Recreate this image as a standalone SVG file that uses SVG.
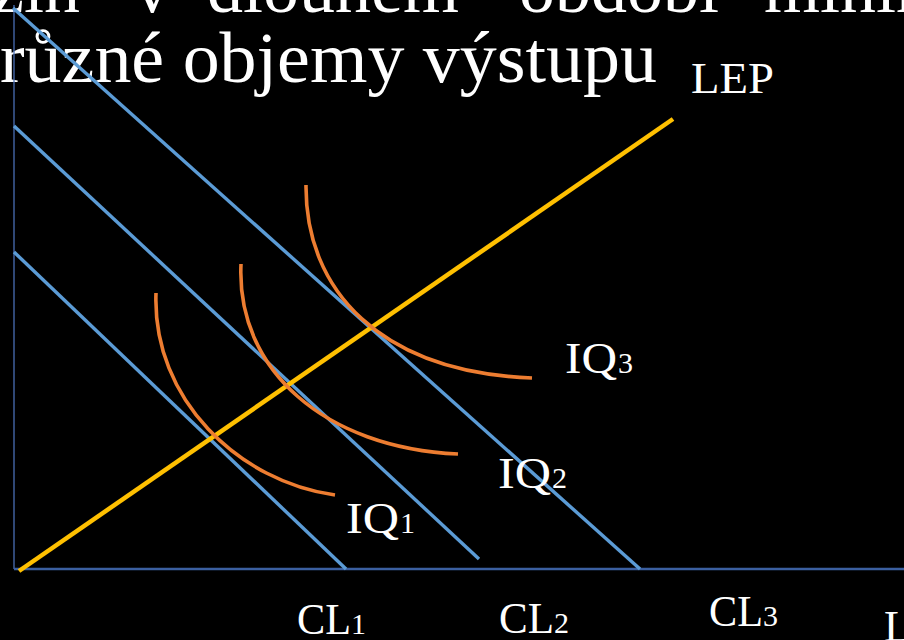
<svg xmlns="http://www.w3.org/2000/svg" width="904" height="640" viewBox="0 0 904 640">
<style>
.t{font-family:"Liberation Serif","Times New Roman",serif;fill:#fff}
.title{font-size:72px}
.lbl{font-size:44px}
.sub{font-size:30px}
.cl{stroke:#5B9BD5;stroke-width:3.4;fill:none}
.iq{stroke:#ED7D31;stroke-width:3.6;fill:none}
</style>
<rect width="904" height="640" fill="#000"/>
<g id="title">
<text class="t title" y="12"><tspan x="-8">zin</tspan><tspan x="134">v</tspan><tspan x="207">dlouhém</tspan><tspan x="519">období</tspan><tspan x="764">minim</tspan></text>
<text class="t title" x="0" y="82" textLength="657" lengthAdjust="spacingAndGlyphs">různé objemy výstupu</text>
</g>
<g id="axes">
<line x1="14" y1="5" x2="14" y2="569" stroke="#4A6FB5" stroke-width="1.3"/>
<line x1="14" y1="569" x2="904" y2="569" stroke="#3B5FA0" stroke-width="2.5"/>
</g>
<g id="connectors">
<line id="CL3-line" class="cl" x1="13" y1="8" x2="640" y2="569"/>
<line id="CL2-line" class="cl" x1="14" y1="126" x2="479" y2="559"/>
<line id="CL1-line" class="cl" x1="14" y1="252" x2="346" y2="569"/>
<line id="LEP-line" x1="19" y1="571" x2="673" y2="119" stroke="#FFC000" stroke-width="4.5"/>
<path id="IQ1-curve" class="iq" d="M156,293 C152,400 240,482 335,495"/>
<path id="IQ2-curve" class="iq" d="M241,264 C236,370 325,448 458,454"/>
<path id="IQ3-curve" class="iq" d="M306,185 C305,290 380,372 532,378"/>
</g>
<g id="LEP"><text class="t lbl" x="691" y="93" textLength="83" lengthAdjust="spacingAndGlyphs">LEP</text></g>
<g id="IQ3"><text class="t lbl" x="565" y="373"><tspan textLength="52" lengthAdjust="spacingAndGlyphs">IQ</tspan><tspan class="sub" x="618">3</tspan></text></g>
<g id="IQ2"><text class="t lbl" x="498" y="488"><tspan textLength="53" lengthAdjust="spacingAndGlyphs">IQ</tspan><tspan class="sub" x="552">2</tspan></text></g>
<g id="IQ1"><text class="t lbl" x="346" y="533"><tspan textLength="53" lengthAdjust="spacingAndGlyphs">IQ</tspan><tspan class="sub" x="400">1</tspan></text></g>
<g id="CL1"><text class="t lbl" x="297" y="634"><tspan textLength="54" lengthAdjust="spacingAndGlyphs">CL</tspan><tspan class="sub" x="351">1</tspan></text></g>
<g id="CL2"><text class="t lbl" x="499" y="633"><tspan textLength="55" lengthAdjust="spacingAndGlyphs">CL</tspan><tspan class="sub" x="554">2</tspan></text></g>
<g id="CL3"><text class="t lbl" x="709" y="626"><tspan textLength="54" lengthAdjust="spacingAndGlyphs">CL</tspan><tspan class="sub" x="763">3</tspan></text></g>
<g id="L"><text class="t lbl" x="884" y="641">L</text></g>
</svg>
